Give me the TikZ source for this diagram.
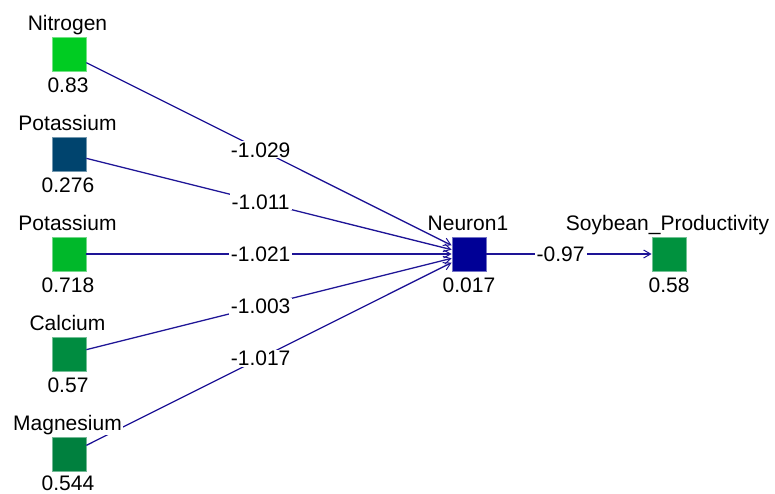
\documentclass[tikz,border=0pt]{standalone}
\usepackage{fontspec}
\setmainfont{Liberation Sans}
\usetikzlibrary{arrows.meta}

\definecolor{nitro}{RGB}{0,204,34}
\definecolor{potA}{RGB}{0,68,110}
\definecolor{potB}{RGB}{0,184,42}
\definecolor{calc}{RGB}{0,140,64}
\definecolor{magn}{RGB}{0,128,62}
\definecolor{neur}{RGB}{0,0,150}
\definecolor{soy}{RGB}{0,146,62}
\definecolor{wire}{RGB}{30,20,150}

\tikzset{
  unitbox/.style={minimum size=34pt, inner sep=0pt, fill=#1, draw=#1!55!white, line width=0.8pt},
  edge/.style={draw=wire, line width=1.3pt, -{Straight Barb[length=7pt,width=8pt,line width=1pt]}},
  wlab/.style={fill=white, inner xsep=2pt, inner ysep=1pt, font=\fontsize{21}{24}\selectfont},
  nlab/.style={fill=white, inner sep=1pt, anchor=base, font=\fontsize{21}{24}\selectfont},
  vlab/.style={inner sep=0pt, anchor=base, font=\fontsize{21}{24}\selectfont}
}

\begin{document}
\begin{tikzpicture}[x=1pt, y=-1pt]
\useasboundingbox (0,0) rectangle (775,493);

% units
\node[unitbox=nitro] (n1) at (69,54) {};
\node[unitbox=potA]  (n2) at (69,154) {};
\node[unitbox=potB]  (n3) at (69,254) {};
\node[unitbox=calc]  (n4) at (69,354) {};
\node[unitbox=magn]  (n5) at (69,454) {};
\node[unitbox=neur]  (hid) at (469,254) {};
\node[unitbox=soy]   (out) at (669,254) {};

% weighted connections
\draw[edge] (n1) -- node[wlab, pos=0.477] {-1.029} (hid);
\draw[edge] (n2) -- node[wlab, pos=0.477] {-1.011} (hid);
\draw[edge] (n3) -- node[wlab, pos=0.477] {-1.021} (hid);
\draw[edge] (n4) -- node[wlab, pos=0.477] {-1.003} (hid);
\draw[edge] (n5) -- node[wlab, pos=0.477] {-1.017} (hid);
\draw[edge] (hid) -- node[wlab, pos=0.449] {-0.97} (out);

% names above the units
\node[nlab] (t1) at (67.5,30) {Nitrogen};
\node[nlab] (t2) at (67.5,130) {Potassium};
\node[nlab] (t3) at (67.5,230) {Potassium};
\node[nlab] (t4) at (67.5,330) {Calcium};
\node[nlab] (t5) at (67.5,430) {Magnesium};
\node[nlab] (th) at (468,230) {Neuron1};
\node[nlab] (to) at (667.5,230) {Soybean\_Productivity};

% activation values below the units
\node[vlab] (v1) at (68,92) {0.83};
\node[vlab] (v2) at (68,192) {0.276};
\node[vlab] (v3) at (68,292) {0.718};
\node[vlab] (v4) at (68,392) {0.57};
\node[vlab] (v5) at (68,490) {0.544};
\node[vlab] (vh) at (469,292) {0.017};
\node[vlab] (vo) at (669,292) {0.58};
\end{tikzpicture}
\end{document}
